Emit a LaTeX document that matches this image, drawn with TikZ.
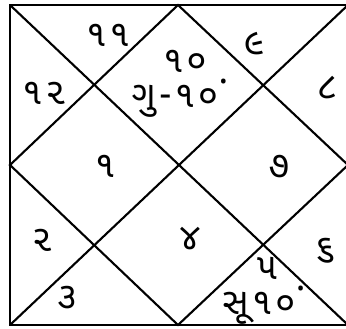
\documentclass[tikz,border=0pt]{standalone}
\usepackage{fontspec}
\newfontfamily\gujfont[Script=Gujarati,LetterSpace=8]{Noto Sans Gujarati UI}
\newcommand{\rdot}{\raisebox{1.2ex}{.}}
\begin{document}
\begin{tikzpicture}[x=.02cm,y=-.02cm,line width=1.2pt,font=\gujfont\fontsize{21}{24}\selectfont]
  \useasboundingbox (0,0) rectangle (346,329);
  \coordinate (tl) at (10,5);
  \coordinate (tr) at (348,5);
  \coordinate (br) at (348,325);
  \coordinate (bl) at (10,325);
  \coordinate (t) at (178,5);
  \coordinate (r) at (348,165);
  \coordinate (b) at (178,325);
  \coordinate (l) at (10,165);
  \draw (tl) rectangle (br);
  \draw (tl)--(br);
  \draw (tr)--(bl);
  \draw (t)--(r)--(b)--(l)--cycle;
  \node (h11) at (108,35) {૧૧};
  \node (h10) at (185,61) {૧૦};
  \node (gu) at (180,98) {ગુ-૧૦\rdot};
  \node (h9) at (254,44) {૯};
  \node (h8) at (327,88) {૮};
  \node (h12) at (44,93) {૧૨};
  \node (h1) at (105,166) {૧};
  \node (h7) at (279,167) {૭};
  \node (h2) at (42,240) {૨};
  \node (h4) at (190,239) {૪};
  \node (h6) at (325,251) {૬};
  \node (h5) at (267,268) {૫};
  \node (h3) at (67,298) {૩};
  \node (su) at (264,305) {સૂ૧૦\rdot};
\end{tikzpicture}
\end{document}
